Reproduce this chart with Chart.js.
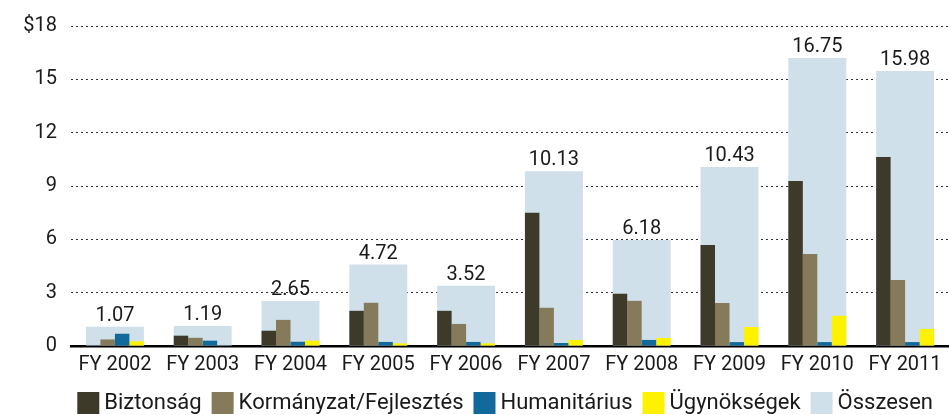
<!DOCTYPE html>
<html>
<head>
<meta charset="utf-8">
<script src="https://cdn.jsdelivr.net/npm/chart.js@4.4.0/dist/chart.umd.min.js"></script>
<style>
  html, body { margin: 0; padding: 0; background: #fff; overflow: hidden; }
  #wrap { width: 949px; height: 415px; }
</style>
</head>
<body>
<div id="wrap"><canvas id="myChart"></canvas></div>
<script>
const years = ['FY 2002','FY 2003','FY 2004','FY 2005','FY 2006','FY 2007','FY 2008','FY 2009','FY 2010','FY 2011'];
const biztonsag    = [0, 0.58, 0.86, 1.98, 1.98, 7.50, 2.94, 5.68, 9.28, 10.63];
const kormanyzat   = [0.37, 0.46, 1.47, 2.43, 1.24, 2.15, 2.54, 2.42, 5.17, 3.71];
const humanitarius = [0.69, 0.30, 0.24, 0.23, 0.23, 0.17, 0.34, 0.22, 0.22, 0.22];
const ugynoksegek  = [0.26, 0, 0.30, 0.15, 0.15, 0.34, 0.45, 1.07, 1.70, 0.96];
const osszesen     = [1.08, 1.13, 2.53, 4.58, 3.39, 9.83, 5.96, 10.07, 16.20, 15.47];
const osszesenLabels = ['1.07','1.19','2.65','4.72','3.52','10.13','6.18','10.43','16.75','15.98'];
const yTicks = [0, 3, 6, 9, 12, 15, 18];

const FONT = 'Roboto';

// total labels above the light blue bars
const totalLabels = {
  id: 'totalLabels',
  afterDatasetsDraw(chart) {
    const ctx = chart.ctx;
    const meta = chart.getDatasetMeta(4);
    ctx.save();
    ctx.font = '20px ' + FONT;
    ctx.fillStyle = '#1a1a1a';
    ctx.textAlign = 'center';
    ctx.textBaseline = 'bottom';
    meta.data.forEach((bar, i) => {
      ctx.fillText(osszesenLabels[i], bar.x, bar.y - 1);
    });
    ctx.restore();
  }
};

const ctx = document.getElementById('myChart').getContext('2d');
const small = { categoryPercentage: 0.66, barPercentage: 1, borderWidth: 0 };
const myChart = new Chart(ctx, {
  type: 'bar',
  data: {
    labels: years,
    datasets: [
      Object.assign({ label: 'Biztonság', data: biztonsag, backgroundColor: '#3d3a29' }, small),
      Object.assign({ label: 'Kormányzat/Fejlesztés', data: kormanyzat, backgroundColor: '#857b5b' }, small),
      Object.assign({ label: 'Humanitárius', data: humanitarius, backgroundColor: '#11699c' }, small),
      Object.assign({ label: 'Ügynökségek', data: ugynoksegek, backgroundColor: '#fff200' }, small),
      {
        label: 'Összesen', data: osszesen, backgroundColor: '#cfe0ea',
        grouped: false, categoryPercentage: 1, barPercentage: 0.66, borderWidth: 0
      }
    ]
  },
  options: {
    responsive: true,
    maintainAspectRatio: false,
    animation: false,
    layout: { padding: { top: 14, right: 0, left: 0, bottom: -9 } },
    plugins: {
      tooltip: { enabled: false },
      legend: {
        position: 'bottom',
        align: 'end',
        labels: {
          // square drawn wider than boxWidth so text sits close to it
          usePointStyle: true, pointStyle: 'rect',
          boxWidth: 10, boxHeight: 22, padding: 16,
          color: '#1a1a1a',
          font: { family: FONT, size: 22 }
        }
      }
    },
    scales: {
      x: {
        grid: { display: false },
        border: { display: true, color: '#000', width: 2.5 },
        ticks: { color: '#1a1a1a', font: { family: FONT, size: 20, lineHeight: 1 }, padding: 1, maxRotation: 0 }
      },
      y: {
        min: 0, max: 18,
        afterFit(scale) { scale.width = 71; },
        afterBuildTicks(scale) { scale.ticks = yTicks.map(v => ({ value: v })); },
        grid: { color: '#333', lineWidth: 1, drawTicks: false, borderDash: [2, 3] },
        border: { display: false, dash: [2, 3] },
        ticks: {
          color: '#1a1a1a', padding: 14,
          font: { family: FONT, size: 20 },
          callback: v => v === 18 ? '$18' : v
        }
      }
    }
  },
  plugins: [totalLabels]
});
</script>
</body>
</html>
